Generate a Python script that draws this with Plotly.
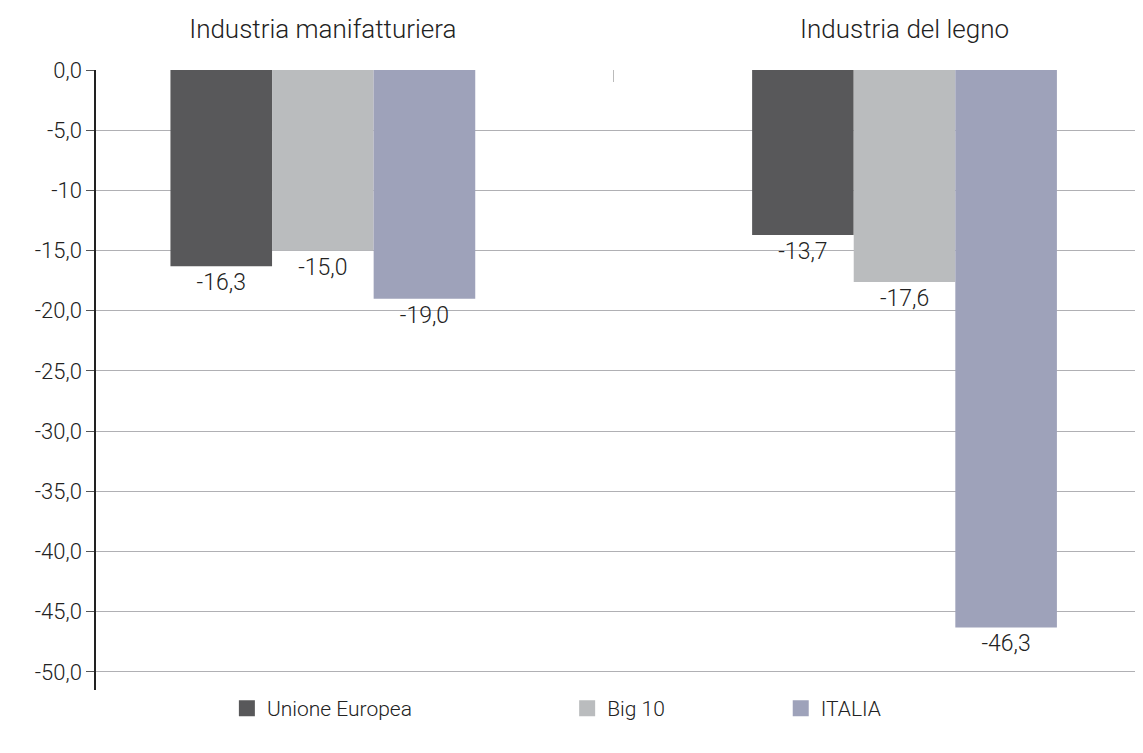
import plotly.graph_objects as go

categories = ["Industria manifatturiera", "Industria del legno"]
series_names = ["Unione Europea", "Big 10", "ITALIA"]
ue_values = [-16.3, -13.7]
big10_values = [-15.0, -17.6]
italia_values = [-19.0, -46.3]
y_tick_vals = [0, -5, -10, -15, -20, -25, -30, -35, -40, -45, -50]
y_tick_text = ["0,0", "-5,0", "-10", "-15,0", "-20,0", "-25,0", "-30,0", "-35,0", "-40,0", "-45,0", "-50,0"]

colors = ["#58585a", "#babcbe", "#9ea2ba"]
FONT = "Roboto, sans-serif"

def fmt(v):
    return f"{v:.1f}".replace(".", ",")

fig = go.Figure()
all_values = [ue_values, big10_values, italia_values]
for name, vals, col in zip(series_names, all_values, colors):
    fig.add_trace(go.Bar(
        x=categories, y=vals, name=name, marker=dict(color=col, line=dict(width=0)),
        text=[fmt(v) for v in vals], textposition="outside",
        textfont=dict(family=FONT, size=23, color="#222", weight=300),
        cliponaxis=False, showlegend=False,
    ))

legend_x = [0.125, 0.45, 0.654]
for i, (name, col) in enumerate(zip(series_names, colors)):
    lg = "legend" if i == 0 else f"legend{i+1}"
    fig.add_trace(go.Scatter(
        x=[None], y=[None], mode="markers", name=name,
        marker=dict(symbol="square", size=20, color=col),
        legend=lg, showlegend=True,
    ))

legend_common = dict(orientation="h", yanchor="middle", y=-0.03, xanchor="left",
                     font=dict(family=FONT, size=21, color="#222", weight=300),
                     bgcolor="rgba(0,0,0,0)", itemsizing="trace")
fig.update_layout(
    legend=dict(x=legend_x[0], **legend_common),
    legend2=dict(x=legend_x[1], **legend_common),
    legend3=dict(x=legend_x[2], **legend_common),
)

fig.update_layout(
    width=1135, height=745,
    margin=dict(l=88, r=0, t=62, b=63, autoexpand=False),
    paper_bgcolor="white", plot_bgcolor="white",
    barmode="group", bargap=0.476, bargroupgap=0,
    font=dict(family=FONT, size=23, color="#222"),
)
fig.update_xaxes(
    side="top", range=[-0.39, 1.41], showgrid=False, showline=False,
    ticks="inside", tickson="boundaries", ticklen=12, tickcolor="#bbbbbb",
    tickfont=dict(family=FONT, size=26, color="#222", weight=300),
    ticklabelstandoff=26, automargin=False,
    zeroline=False,
)
fig.update_yaxes(
    range=[-51.5, 0], tickvals=y_tick_vals, ticktext=y_tick_text,
    showgrid=True, gridcolor="#b0b0b4", gridwidth=1,
    showline=True, linecolor="#222", linewidth=1.5,
    ticks="outside", ticklen=8, tickcolor="#555",
    tickfont=dict(family=FONT, size=22, color="#222", weight=300),
    automargin=False, zeroline=False,
)

fig.write_html("out.html")
